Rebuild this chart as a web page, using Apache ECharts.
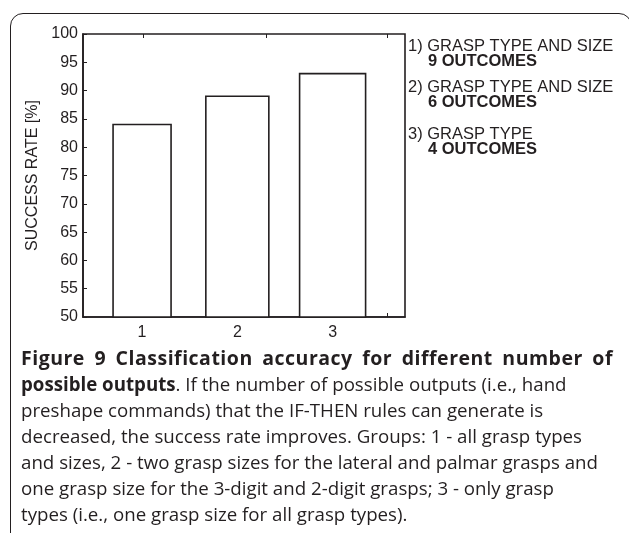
<!DOCTYPE html>
<html>
<head>
<meta charset="utf-8">
<script src="https://cdn.jsdelivr.net/npm/echarts@6/dist/echarts.min.js"></script>
<style>
html,body{margin:0;padding:0;background:#fff;}
body{width:629px;height:533px;position:relative;overflow:hidden;}
#frame{position:absolute;left:10px;top:13px;width:622px;height:535px;border:1.5px solid #231f20;border-radius:13px;box-sizing:border-box;pointer-events:none;}
#main{position:absolute;left:0;top:0;width:629px;height:345px;}
#caption{position:absolute;left:21px;top:345px;width:592px;font-family:"Open Sans",sans-serif;font-size:18.7px;line-height:26px;color:#231f20;white-space:nowrap;}
#caption .t{display:block;font-weight:bold;font-size:19.5px;letter-spacing:0.5px;text-align:justify;text-align-last:justify;white-space:normal;}
#caption b{font-weight:bold;}
</style>
</head>
<body>
<div id="main"></div>
<div id="caption">
<span class="t">Figure 9 Classification accuracy for different number of</span><b>possible outputs</b>. If the number of possible outputs (i.e., hand<br>preshape commands) that the IF-THEN rules can generate is<br>decreased, the success rate improves. Groups: 1 - all grasp types<br>and sizes, 2 - two grasp sizes for the lateral and palmar grasps and<br>one grasp size for the 3-digit and 2-digit grasps; 3 - only grasp<br>types (i.e., one grasp size for all grasp types).
</div>
<div id="frame"></div>
<script>
// groups and success rates
var groups = [1, 2, 3]
var rates = [84, 89, 93]
var groupNames = ['1) GRASP TYPE AND SIZE', '2) GRASP TYPE AND SIZE', '3) GRASP TYPE']
var outcomes = ['9 OUTCOMES', '6 OUTCOMES', '4 OUTCOMES']
// small tick marks on the frame (x units)
var xTicks = [1.01, 2.3, 3.57]

var barPx = [58, 63, 66]
var ink = '#231f20'
var font = '"Liberation Sans", Arial, sans-serif'

var chart = echarts.init(document.getElementById('main'))

var legendTop = [47, 88, 135]
var graphics = []
for (var i = 0; i < groupNames.length; i++) {
	graphics.push({
		type: 'text', left: 408, top: legendTop[i] - 9,
		style: { text: groupNames[i], fill: ink, font: '16.5px ' + font }
	})
	graphics.push({
		type: 'text', left: 428, top: legendTop[i] + 6,
		style: { text: outcomes[i], fill: ink, font: 'bold 16.5px ' + font }
	})
}

var data = []
for (var i = 0; i < groups.length; i++) {
	data.push([groups[i], rates[i]])
}

var option = {
	animation: false,
	grid: {
		left: 83, top: 34, width: 322, height: 283,
		show: true, borderColor: ink, borderWidth: 1.6, backgroundColor: 'transparent'
	},
	xAxis: [{
		type: 'value', min: 0.38, max: 3.76, position: 'bottom',
		splitLine: { show: false },
		axisLine: { show: true, lineStyle: { color: ink, width: 1.6 } },
		axisTick: { show: true, inside: true, length: 4, customValues: xTicks, lineStyle: { color: ink } },
		axisLabel: { customValues: groups, margin: 8, color: ink, fontSize: 16, fontFamily: font }
	}, {
		type: 'value', min: 0.38, max: 3.76, position: 'top',
		splitLine: { show: false },
		axisLine: { show: false },
		axisTick: { show: true, inside: true, length: 4, customValues: xTicks, lineStyle: { color: ink } },
		axisLabel: { show: false }
	}],
	yAxis: {
		type: 'value', min: 50, max: 100, interval: 5,
		name: 'SUCCESS RATE [%]', nameLocation: 'middle', nameGap: 41, nameRotate: 90,
		nameTextStyle: { color: ink, fontSize: 16, fontFamily: font },
		splitLine: { show: false },
		axisLine: { show: true, lineStyle: { color: ink, width: 1.6 } },
		axisTick: { show: true, inside: true, length: 4, lineStyle: { color: ink } },
		axisLabel: { margin: 5, color: ink, fontSize: 16, fontFamily: font }
	},
	series: [{
		type: 'custom',
		data: data,
		renderItem: function (params, api) {
			var top = api.coord([api.value(0), api.value(1)])
			var base = api.coord([api.value(0), 50])
			var w = barPx[params.dataIndex]
			return {
				type: 'rect',
				shape: { x: top[0] - w / 2, y: top[1], width: w, height: base[1] - top[1] },
				style: { fill: '#fff', stroke: ink, lineWidth: 1.6 }
			}
		}
	}],
	graphic: graphics
}
chart.setOption(option)
</script>
</body>
</html>
